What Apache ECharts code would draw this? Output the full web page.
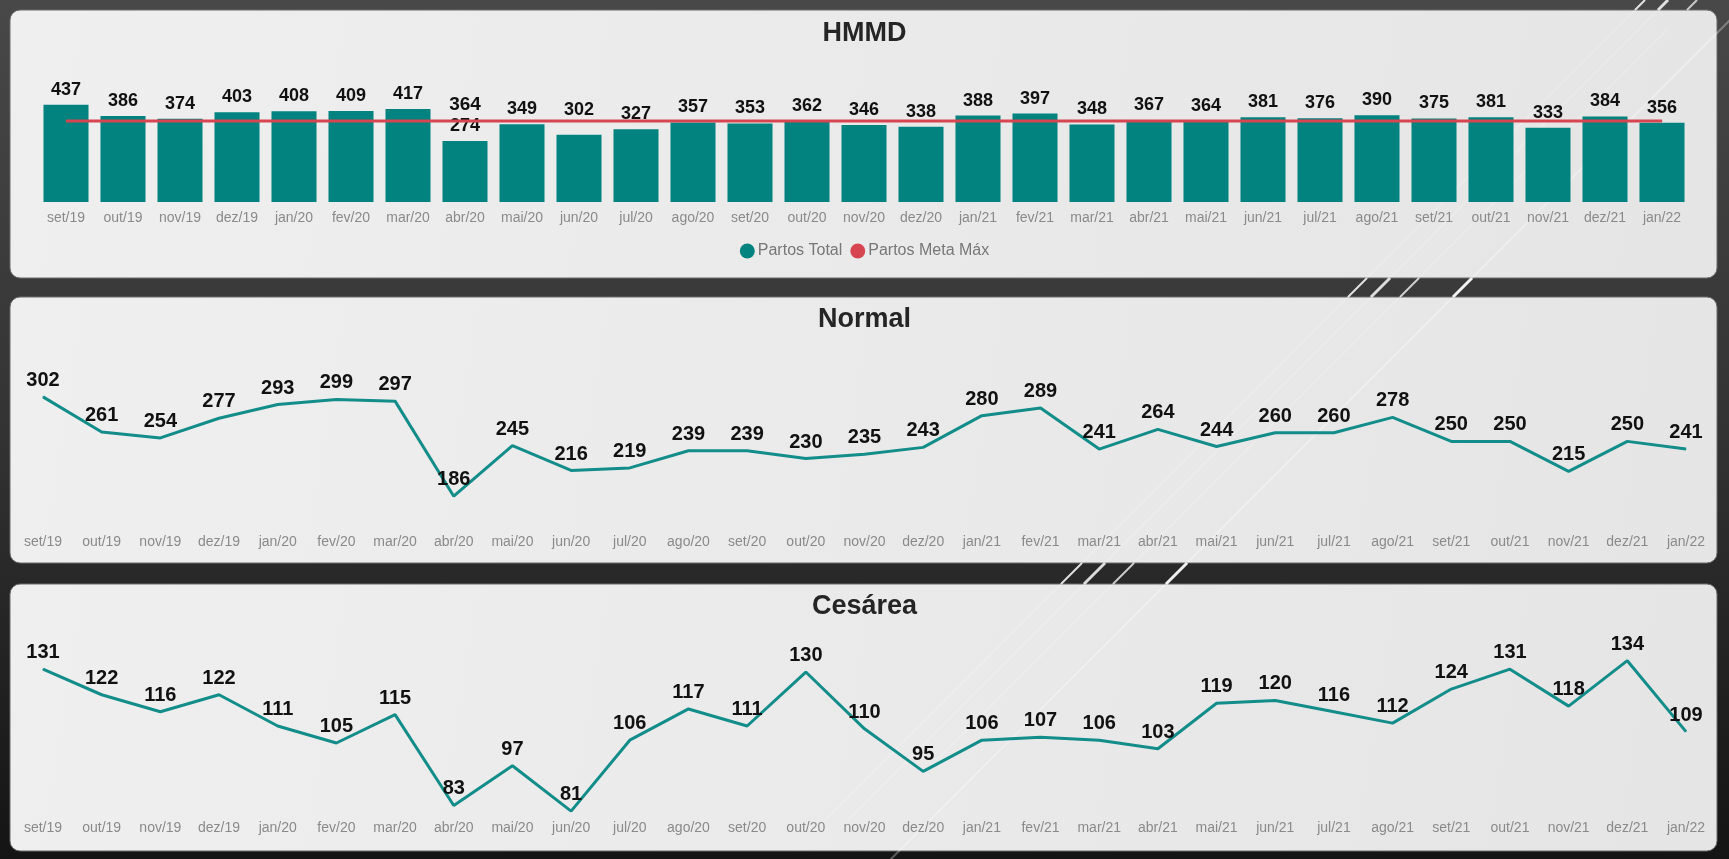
<!DOCTYPE html>
<html>
<head>
<meta charset="utf-8">
<title>Partos</title>
<script src="https://cdn.jsdelivr.net/npm/echarts@6/dist/echarts.min.js"></script>
<style>
	html, body { margin: 0; padding: 0; background: #222; }
	#main { width: 1729px; height: 859px; }
</style>
</head>
<body>
<div id="main"></div>
<script>
var meses = ['set/19', 'out/19', 'nov/19', 'dez/19', 'jan/20', 'fev/20', 'mar/20', 'abr/20', 'mai/20', 'jun/20',
	'jul/20', 'ago/20', 'set/20', 'out/20', 'nov/20', 'dez/20', 'jan/21', 'fev/21', 'mar/21', 'abr/21',
	'mai/21', 'jun/21', 'jul/21', 'ago/21', 'set/21', 'out/21', 'nov/21', 'dez/21', 'jan/22'];
var partosTotal = [437, 386, 374, 403, 408, 409, 417, 274, 349, 302, 327, 357, 353, 362, 346, 338, 388, 397, 348, 367,
	364, 381, 376, 390, 375, 381, 333, 384, 356];
var partosMetaMax = [364, 364, 364, 364, 364, 364, 364, 364, 364, 364, 364, 364, 364, 364, 364, 364, 364, 364, 364, 364,
	364, 364, 364, 364, 364, 364, 364, 364, 364];
var partosNormal = [302, 261, 254, 277, 293, 299, 297, 186, 245, 216, 219, 239, 239, 230, 235, 243, 280, 289, 241, 264,
	244, 260, 260, 278, 250, 250, 215, 250, 241];
var partosCesarea = [131, 122, 116, 122, 111, 105, 115, 83, 97, 81, 106, 117, 111, 130, 110, 95, 106, 107, 106, 103,
	119, 120, 116, 112, 124, 131, 118, 134, 109];
// so o rotulo da meta em abr/20 aparece
var metaLabelIdx = 7;
// jun/20: rotulo empurrado pra cima da linha da meta
var barLabelUp = 9;

var fonte = 'Arial, "Liberation Sans", sans-serif';
var teal = '#02837F';
var tealLinha = '#138D89';
var vermelho = '#D64550';

var painelFill = {
	type: 'linear', x: 0, y: 0, x2: 1, y2: 1,
	colorStops: [{ offset: 0, color: '#efefef' }, { offset: 1, color: '#e5e5e5' }]
};

function painel(y, h) {
	return {
		type: 'rect', z: -10,
		shape: { x: 10, y: y, width: 1707, height: h, r: 10 },
		style: { fill: painelFill, stroke: '#6a6a6a', lineWidth: 1 }
	};
}

function risco(c, y1, y2, op, w) {
	return {
		type: 'line', z: -5, silent: true,
		shape: { x1: c - y1, y1: y1, x2: c - y2, y2: y2 },
		style: { stroke: 'rgba(255,255,255,' + op + ')', lineWidth: w }
	};
}

function eixoX(idx, gap, margem) {
	return {
		type: 'category', gridIndex: idx, data: meses, boundaryGap: gap,
		axisLine: { show: false }, axisTick: { show: false }, splitLine: { show: false },
		axisLabel: { interval: 0, color: '#8a8a8a', fontSize: 14, fontFamily: fonte, margin: margem }
	};
}

function eixoY(idx, min, max) {
	return { type: 'value', gridIndex: idx, min: min, max: max, show: false, splitLine: { show: false } };
}

function rotulo(size) {
	return { show: true, position: 'top', distance: 6, color: '#111', fontSize: size, fontWeight: 'bold', fontFamily: fonte };
}

var tituloStyle = { fontSize: 27, fontWeight: 'bold', color: '#252525', fontFamily: fonte };

var option = {
	backgroundColor: {
		type: 'linear', x: 0, y: 0, x2: 0, y2: 1,
		colorStops: [{ offset: 0, color: '#484848' }, { offset: 0.5, color: '#333333' }, { offset: 1, color: '#141414' }]
	},
	animation: false,
	title: [
		{ text: 'HMMD', left: 'center', top: 20, padding: 0, textStyle: tituloStyle },
		{ text: 'Normal', left: 'center', top: 306, padding: 0, textStyle: tituloStyle },
		{ text: 'Cesárea', left: 'center', top: 593, padding: 0, textStyle: tituloStyle }
	],
	legend: {
		data: ['Partos Total', 'Partos Meta Máx'],
		left: 'center', top: 243, padding: 0,
		icon: 'circle', itemWidth: 15, itemHeight: 15, itemGap: 8,
		textStyle: { color: '#777', fontSize: 16, fontFamily: fonte, padding: [0, 0, 0, -2] }
	},
	graphic: [
		painel(10, 268),
		painel(297, 266),
		painel(584, 267),
		risco(1645, 0, 830, 0.25, 1.5),
		risco(1668, 0, 820, 0.22, 1.5),
		risco(1697, 30, 760, 0.22, 1.2),
		risco(1750, 20, 860, 0.3, 2),
		risco(1645, 278, 297, 0.8, 2),
		risco(1668, 278, 297, 0.8, 3),
		risco(1697, 278, 297, 0.7, 2),
		risco(1750, 278, 297, 0.9, 3),
		risco(1645, 563, 584, 0.8, 2),
		risco(1668, 563, 584, 0.8, 3),
		risco(1697, 563, 584, 0.7, 2),
		risco(1750, 563, 584, 0.9, 3),
		risco(1645, 0, 10, 0.8, 2),
		risco(1668, 0, 10, 0.8, 3),
		risco(1697, 0, 10, 0.7, 2)
	],
	grid: [
		{ left: 37.5, right: 38.5, top: 104, bottom: 657 },
		{ left: 43, right: 43, top: 390, bottom: 332 },
		{ left: 43, right: 43, top: 655, bottom: 45 }
	],
	xAxis: [eixoX(0, true, 9), eixoX(1, false, 8), eixoX(2, false, 7)],
	yAxis: [eixoY(0, 0, 440), eixoY(1, 150, 310), eixoY(2, 80, 136)],
	series: [{
			name: 'Partos Total',
			type: 'bar',
			xAxisIndex: 0, yAxisIndex: 0,
			data: partosTotal.map(function(v, i) {
				if (i === barLabelUp) {
					return { value: v, label: { distance: 16 } };
				}
				return v;
			}),
			barCategoryGap: '21%',
			itemStyle: { color: teal },
			label: rotulo(18)
		},
		{
			name: 'Partos Meta Máx',
			type: 'line',
			xAxisIndex: 0, yAxisIndex: 0,
			data: partosMetaMax.map(function(v, i) {
				return i === metaLabelIdx ? { value: v, label: rotulo(19) } : v;
			}),
			symbol: 'circle', symbolSize: 1,
			itemStyle: { color: vermelho },
			lineStyle: { color: vermelho, width: 3 },
			label: { show: false }
		},
		{
			name: 'Normal',
			type: 'line',
			xAxisIndex: 1, yAxisIndex: 1,
			data: partosNormal,
			symbol: 'circle', symbolSize: 1,
			itemStyle: { color: tealLinha },
			lineStyle: { color: tealLinha, width: 3 },
			label: rotulo(20)
		},
		{
			name: 'Cesárea',
			type: 'line',
			xAxisIndex: 2, yAxisIndex: 2,
			data: partosCesarea,
			symbol: 'circle', symbolSize: 1,
			itemStyle: { color: tealLinha },
			lineStyle: { color: tealLinha, width: 3 },
			label: rotulo(20)
		}
	]
};

var myChart = echarts.init(document.getElementById('main'));
myChart.setOption(option);
window.addEventListener('resize', function() {
	myChart.resize();
});
</script>
</body>
</html>
